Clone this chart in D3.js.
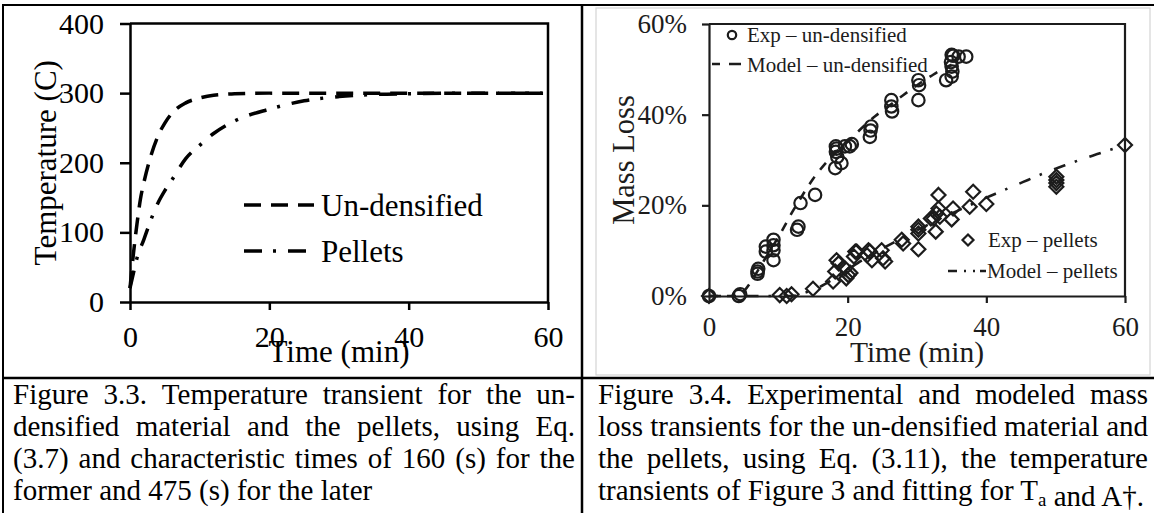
<!DOCTYPE html>
<html>
<head>
<meta charset="utf-8">
<script src="https://cdn.jsdelivr.net/npm/d3@7"></script>
<style>
  html, body { margin: 0; padding: 0; background: #fff; }
  svg { display: block; }
</style>
</head>
<body>
<svg id="fig" width="1154" height="513"></svg>
<script>
// ---------- Figure 3.3: temperature transients ----------
const tempTicksX = [0, 20, 40, 60];
const tempTicksY = [0, 100, 200, 300, 400];
const undTime = [0, 0.5, 1, 1.5, 2, 3, 4, 5, 6, 8, 10, 12, 15, 20, 25, 30, 40, 50, 60];
const undTemp = [20, 70, 112, 148, 172, 210, 238, 257, 271, 286, 293, 297, 299, 300, 300, 300, 300, 300, 300];
const pelTime = [0, 0.5, 1, 2, 3, 4, 5, 6, 8, 10, 12, 15, 20, 25, 30, 35, 40, 50, 60];
const pelTemp = [20, 42, 63, 90, 118, 142, 160, 175, 206, 225, 242, 260, 277, 289, 295, 298, 299, 300, 300];
const tempLegend = ["Un-densified", "Pellets"];

// ---------- Figure 3.4: mass loss, experiment and model ----------
const massTicksX = [0, 20, 40, 60];
const massTicksY = [0, 20, 40, 60];
const expUndTime = [0, 4.3, 4.5, 7.0, 7.0, 7.1, 8.2, 8.2, 9.3, 9.3, 9.3, 9.3, 12.9, 12.7, 13.2, 15.3,
  18.2, 18.3, 18.3, 18.4, 18.5, 19.1, 19.6, 20.3, 20.6, 23.2, 23.4, 23.3, 26.3, 26.3, 26.4,
  30.2, 30.2, 30.3, 34.2, 35.0, 35.0, 35.1, 35.0, 34.9, 35.2, 36.0, 37.1];
const expUndLoss = [0, 0, 0.4, 5.4, 4.9, 6.0, 10.9, 9.8, 12.4, 10.1, 7.9, 11.2, 15.3, 14.6, 20.5, 22.3,
  28.2, 33.0, 31.8, 32.5, 30.7, 29.3, 33.0, 33.0, 33.5, 35.1, 37.4, 36.5, 43.2, 41.8, 40.7,
  43.2, 47.6, 46.5, 47.6, 53.2, 50.6, 49.5, 48.4, 51.6, 53.0, 52.8, 52.8];
const expPelTime = [0, 10.2, 11.2, 11.9, 15.0, 17.9, 18.2, 18.4, 18.7, 19.6, 19.8, 20.1, 20.4, 20.9, 21.1,
  21.3, 22.8, 23.0, 23.2, 23.5, 24.9, 25.1, 25.4, 27.8, 28.0, 30.2, 30.2, 30.2, 30.2, 32.0,
  32.4, 32.7, 32.8, 33.1, 33.1, 33.3, 35.0, 35.2, 37.6, 38.1, 40.0, 50.1, 50.1, 50.1, 50.1, 60];
const expPelLoss = [0, 0.2, 0, 0.4, 1.6, 3.2, 5.4, 7.9, 7.2, 6.1, 3.9, 4.6, 5.1, 8.7, 9.8,
  9.8, 9.0, 10.1, 9.8, 7.9, 10.1, 8.3, 7.6, 12.4, 11.6, 15.3, 14.6, 13.8, 10.3, 17.1,
  17.1, 14.2, 18.2, 22.3, 19.3, 17.5, 16.9, 19.3, 19.7, 23.0, 20.3, 25.6, 24.9, 24.1, 26.3, 33.3];
const modUndTime = [0, 4, 5, 6, 7, 8, 9, 10, 11, 12, 13, 14, 15, 16, 17, 18, 20, 22, 24, 26, 28, 30, 32, 34, 35];
const modUndLoss = [0, 0, 1, 3, 5.5, 8, 10.5, 13, 15.7, 18.5, 21, 23.5, 25.8, 27.8, 29.6, 31.2, 34, 37, 39.7, 42, 44.3, 46.5, 48.5, 50.3, 51];
const modPelTime = [0, 12, 14, 16, 18, 20, 22, 24, 26, 28, 30, 32, 34, 36, 38, 40, 42, 44, 46, 48, 50, 52, 54, 56, 58, 60];
const modPelLoss = [0, 0, 0.8, 2, 3.8, 5.8, 7.8, 9.6, 11.3, 12.9, 14.5, 16, 17.5, 18.9, 20.3, 21.7, 23, 24.3, 25.6, 26.9, 28.1, 29.2, 30.3, 31.3, 32.3, 33.2];
const massLegend = ["Exp \u2013 un-densified", "Model \u2013 un-densified", "Exp \u2013 pellets", "Model \u2013 pellets"];

// ---------- captions ----------
const captionLeft = [
  "Figure 3.3. Temperature transient for the un-",
  "densified material and the pellets, using Eq.",
  "(3.7) and characteristic times of 160 (s) for the",
  "former and 475 (s) for the later"
];
const captionRight = [
  "Figure 3.4. Experimental and modeled mass",
  "loss transients for the un-densified material and",
  "the pellets, using Eq. (3.11), the temperature",
  "transients of Figure 3 and fitting for T_a and A\u2020."
];

const serif = "'Liberation Serif','Times New Roman',Times,serif";
const svg = d3.select("#fig");

function styleAxis(g, size, width, color) {
  g.attr("font-family", serif).attr("font-size", size);
  g.select(".domain").attr("stroke", color).attr("stroke-width", width);
  g.selectAll(".tick line").attr("stroke", color).attr("stroke-width", width);
  g.selectAll(".tick text").attr("fill", color);
}

// ---------- table rules ----------
const rules = svg.append("g").attr("stroke", "#000");
rules.append("line").attr("x1", 2).attr("x2", 1154).attr("y1", 5).attr("y2", 5).attr("stroke-width", 2);
rules.append("line").attr("x1", 3).attr("x2", 3).attr("y1", 4).attr("y2", 513).attr("stroke-width", 2);
rules.append("line").attr("x1", 582).attr("x2", 582).attr("y1", 4).attr("y2", 513).attr("stroke-width", 2.5);
rules.append("line").attr("x1", 2).attr("x2", 1154).attr("y1", 378).attr("y2", 378).attr("stroke-width", 2.5);

// ======================= left panel =======================
const xT = d3.scaleLinear().domain([0, 60]).range([130, 548]);
const yT = d3.scaleLinear().domain([0, 400]).range([302, 23.5]);
const left = svg.append("g");

left.append("g").attr("transform", `translate(0,${yT(0)})`)
  .call(d3.axisBottom(xT).tickValues(tempTicksX).tickSize(8).tickSizeOuter(0).tickPadding(16))
  .call(styleAxis, 30, 2.5, "#000");
left.append("g").attr("transform", `translate(${xT(0)},0)`)
  .call(d3.axisLeft(yT).tickValues(tempTicksY).tickSize(10).tickSizeOuter(0).tickPadding(16))
  .call(styleAxis, 30, 2.5, "#000");
// plot frame (top and right)
left.append("path")
  .attr("d", `M${xT(0)},${yT(400)}H${xT(60)}V${yT(0)}`)
  .attr("fill", "none").attr("stroke", "#000").attr("stroke-width", 2.5);

const tLine = d3.line().x(d => xT(d[0])).y(d => yT(d[1])).curve(d3.curveMonotoneX);
const undPts = d3.zip(undTime, undTemp);
const pelPts = d3.zip(pelTime, pelTemp);
left.append("path").datum(pelPts).attr("d", tLine)
  .attr("fill", "none").attr("stroke", "#000").attr("stroke-width", 3.5)
  .attr("stroke-dasharray", "18,11,3,12");
left.append("path").datum(undPts).attr("d", tLine)
  .attr("fill", "none").attr("stroke", "#000").attr("stroke-width", 3.5)
  .attr("stroke-dasharray", "17,10");

// legend
const legL = left.append("g").attr("font-family", serif).attr("font-size", 31);
[[tempLegend[0], 205, "17,10"], [tempLegend[1], 251, "18,11,3,12"]].forEach(([label, y, dash]) => {
  legL.append("line").attr("x1", 244).attr("x2", 314).attr("y1", y).attr("y2", y)
    .attr("stroke", "#000").attr("stroke-width", 3.5).attr("stroke-dasharray", dash);
  legL.append("text").attr("x", 321).attr("y", y + 11).text(label);
});

// axis titles
left.append("text").attr("font-family", serif).attr("font-size", 31)
  .attr("text-anchor", "middle").attr("x", (xT(0) + xT(60)) / 2).attr("y", 362).text("Time (min)");
left.append("text").attr("font-family", serif).attr("font-size", 31)
  .attr("text-anchor", "middle").attr("transform", `translate(56,${(yT(0) + yT(400)) / 2}) rotate(-90)`)
  .text("Temperature (C)");

// ======================= right panel =======================
const ink = "#1c1c1c";
const right = svg.append("g");
right.append("rect").attr("x", 596).attr("y", 8).attr("width", 554).attr("height", 367)
  .attr("fill", "none").attr("stroke", "#d4d4d4").attr("stroke-width", 1.2);

const xM = d3.scaleLinear().domain([0, 60]).range([709, 1125]);
const yM = d3.scaleLinear().domain([0, 60]).range([296, 24]);

right.append("g").attr("transform", `translate(0,${yM(0)})`)
  .call(d3.axisBottom(xM).tickValues(massTicksX).tickSize(7).tickSizeOuter(0).tickPadding(14))
  .call(styleAxis, 27, 2.2, ink);
right.append("g").attr("transform", `translate(${xM(0)},0)`)
  .call(d3.axisLeft(yM).tickValues(massTicksY).tickSize(7).tickSizeOuter(0).tickPadding(15)
    .tickFormat(d => d + "%"))
  .call(styleAxis, 27, 2.2, ink);
right.append("path")
  .attr("d", `M${xM(0)},${yM(60)}H${xM(60)}V${yM(0)}`)
  .attr("fill", "none").attr("stroke", ink).attr("stroke-width", 2.2);

const mLine = d3.line().x(d => xM(d[0])).y(d => yM(d[1])).curve(d3.curveMonotoneX);
right.append("path").datum(d3.zip(modUndTime, modUndLoss)).attr("d", mLine)
  .attr("fill", "none").attr("stroke", ink).attr("stroke-width", 2.6).attr("stroke-dasharray", "9,9");
right.append("path").datum(d3.zip(modPelTime, modPelLoss)).attr("d", mLine)
  .attr("fill", "none").attr("stroke", ink).attr("stroke-width", 2.6).attr("stroke-dasharray", "12,10,2.5,13");

const diamond = s => `M0,${-s}L${s},0L0,${s}L${-s},0Z`;
right.append("g").selectAll("circle").data(d3.zip(expUndTime, expUndLoss)).join("circle")
  .attr("cx", d => xM(d[0])).attr("cy", d => yM(d[1])).attr("r", 6.2)
  .attr("fill", "none").attr("stroke", ink).attr("stroke-width", 2.2);
right.append("g").selectAll("path").data(d3.zip(expPelTime, expPelLoss)).join("path")
  .attr("transform", d => `translate(${xM(d[0])},${yM(d[1])})`).attr("d", diamond(7))
  .attr("fill", "none").attr("stroke", ink).attr("stroke-width", 2.2);

// legend
const legR = right.append("g").attr("font-family", serif).attr("font-size", 21).attr("fill", ink);
legR.append("circle").attr("cx", 732).attr("cy", 35).attr("r", 4.2)
  .attr("fill", "none").attr("stroke", ink).attr("stroke-width", 2.2);
legR.append("text").attr("x", 747).attr("y", 42).text(massLegend[0]);
legR.append("line").attr("x1", 712).attr("x2", 741).attr("y1", 64).attr("y2", 64)
  .attr("stroke", ink).attr("stroke-width", 2.6).attr("stroke-dasharray", "8,9,12");
legR.append("text").attr("x", 747).attr("y", 72).text(massLegend[1]);
legR.append("path").attr("transform", "translate(968,240)").attr("d", diamond(5.5))
  .attr("fill", "none").attr("stroke", ink).attr("stroke-width", 2.2);
legR.append("text").attr("x", 988).attr("y", 247).text(massLegend[2]);
legR.append("line").attr("x1", 948).attr("x2", 986).attr("y1", 271).attr("y2", 271)
  .attr("stroke", ink).attr("stroke-width", 2.6).attr("stroke-dasharray", "9,7,2,7,2,5,8");
legR.append("text").attr("x", 987).attr("y", 278).text(massLegend[3]);

// axis titles
right.append("text").attr("font-family", serif).attr("font-size", 29.5).attr("fill", ink)
  .attr("text-anchor", "middle").attr("x", (xM(0) + xM(60)) / 2).attr("y", 362).text("Time (min)");
right.append("text").attr("font-family", serif).attr("font-size", 30.5).attr("fill", ink)
  .attr("text-anchor", "middle").attr("transform", `translate(634,${(yM(0) + yM(60)) / 2}) rotate(-90)`)
  .text("Mass Loss");

// ======================= captions =======================
function addWord(textSel, word) {
  const t = textSel.append("tspan");
  const parts = word.split("_");
  if (parts.length === 1) { t.text(word); return t; }
  t.append("tspan").text(parts[0]);
  t.append("tspan").attr("font-size", "0.65em").attr("dy", 6).text(parts[1]);
  t.append("tspan").attr("dy", -6).text("");
  return t;
}
function caption(lines, x0, x1, baselines, size) {
  const g = svg.append("g").attr("font-family", serif).attr("font-size", size).attr("fill", "#000");
  lines.forEach((line, i) => {
    const text = g.append("text").attr("y", baselines[i]);
    const words = line.split(" ");
    if (i === lines.length - 1) {
      // last line of the paragraph keeps natural spacing
      text.attr("x", x0);
      words.forEach((w, k) => addWord(text, (k ? " " : "") + w));
      return;
    }
    // justified line: spread words between the cell margins
    const spans = words.map(w => addWord(text, w));
    const widths = spans.map(s => s.node().getComputedTextLength());
    const gap = (x1 - x0 - d3.sum(widths)) / (words.length - 1);
    let x = x0;
    spans.forEach((s, k) => { s.attr("x", x); x += widths[k] + gap; });
  });
}
const capBase = [404, 436, 468, 500];
caption(captionLeft, 13, 575, capBase, 29);
caption(captionRight, 598, 1148, capBase, 29);
</script>
</body>
</html>
